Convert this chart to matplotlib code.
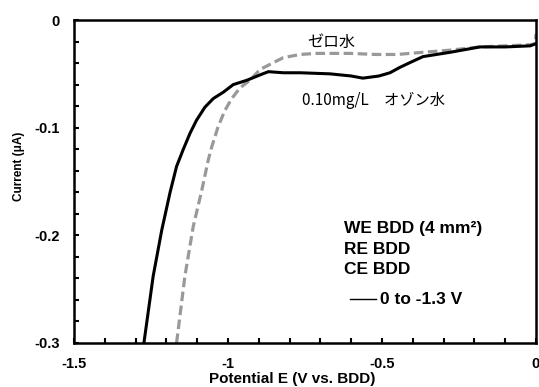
import numpy as np
import matplotlib.pyplot as plt
from matplotlib.ticker import MultipleLocator

plt.rcParams['font.family'] = ['Liberation Sans', 'DejaVu Sans']
plt.rcParams['axes.unicode_minus'] = False

# ---------- data ----------
# 0.10 mg/L ozone water (black solid)
ozone_E = [-1.273, -1.243, -1.215, -1.188, -1.167, -1.145, -1.123, -1.102,
           -1.075, -1.048, -1.015, -0.983, -0.939, -0.896, -0.869, -0.820, -0.766,
           -0.669, -0.600, -0.562, -0.510, -0.474, -0.442, -0.405, -0.367, -0.279,
           -0.182, -0.100, -0.019, 0.0]
ozone_I = [-0.300, -0.238, -0.195, -0.160, -0.136, -0.120, -0.105, -0.093,
           -0.081, -0.073, -0.067, -0.060, -0.056, -0.051, -0.048, -0.049, -0.049,
           -0.050, -0.052, -0.054, -0.052, -0.049, -0.044, -0.039, -0.034, -0.030,
           -0.025, -0.025, -0.024, -0.022]

# zero water (gray dashed)
zero_E = [-1.167, -1.140, -1.113, -1.085, -1.064, -1.053, -1.032, -1.010, -0.988,
          -0.961, -0.929, -0.896, -0.869, -0.821, -0.766, -0.711, -0.604, -0.520,
          -0.451, -0.367, -0.279, -0.182, -0.100, -0.019, -0.002, 0.0]
zero_I = [-0.300, -0.238, -0.192, -0.158, -0.130, -0.118, -0.099, -0.084, -0.073,
          -0.063, -0.056, -0.046, -0.042, -0.035, -0.032, -0.031, -0.031, -0.032,
          -0.032, -0.030, -0.028, -0.025, -0.024, -0.023, -0.022, -0.013]

x_ticks = [-1.5, -1.0, -0.5, 0.0]
x_labels = ['-1.5', '-1', '-0.5', '0']
y_ticks = [0.0, -0.1, -0.2, -0.3]
y_labels = ['0', '-0.1', '-0.2', '-0.3']

# ---------- figure ----------
fig = plt.figure(figsize=(5.39, 3.87), dpi=100)
ax = fig.add_axes([0.1373, 0.1137, 0.8571, 0.8346])

ax.plot(zero_E, zero_I, color='#999999', lw=2.3, dashes=(3, 1.4), zorder=2)
ax.plot(ozone_E, ozone_I, color='black', lw=2.2, zorder=3)

ax.set_xlim(-1.5, 0)
ax.set_ylim(-0.3, 0)
ax.set_xticks(x_ticks)
ax.set_xticklabels(x_labels)
ax.set_yticks(y_ticks)
ax.set_yticklabels(y_labels)
ax.xaxis.set_minor_locator(MultipleLocator(0.1))
ax.yaxis.set_minor_locator(MultipleLocator(0.02))
ax.tick_params(which='both', direction='in', top=False, right=False, width=1.5,
               length=3.5, color='black')
ax.tick_params(axis='y', pad=10)
ax.tick_params(axis='x', pad=10)
for lab in ax.get_xticklabels() + ax.get_yticklabels():
    lab.set_fontsize(10.5)
    lab.set_fontweight('bold')
for sp in ax.spines.values():
    sp.set_linewidth(1.8)
    sp.set_color('black')

ax.set_xlabel('Potential E (V vs. BDD)', fontsize=11, fontweight='bold')
ax.xaxis.set_label_coords(0.473, -0.111, transform=ax.transAxes)
ax.xaxis.label.set_va('center')
ax.set_ylabel('Current (\u03bcA)', fontsize=8.5, fontweight='bold')
ax.yaxis.set_label_coords(-0.119, 0.548, transform=ax.transAxes)
ax.yaxis.label.set_va('center')

jp = ['Noto Sans CJK JP', 'DejaVu Sans']
ax.text(-0.664, -0.0209, 'ゼロ水', family=jp, fontsize=11.5, ha='center', va='center')
ax.text(-0.760, -0.0743, '0.10mg/L\u3000オゾン水', family=jp, fontsize=11,
        ha='left', va='center')

for yy, s in [(0.353, 'WE BDD (4 mm\u00b2)'), (0.291, 'RE BDD'), (0.229, 'CE BDD')]:
    ax.text(0.584, yy, s, transform=ax.transAxes, fontsize=12.5, fontweight='bold',
            ha='left', va='center')
ax.plot([0.597, 0.654], [0.136, 0.136], transform=ax.transAxes, color='black', lw=1.0)
ax.text(0.662, 0.136, '0 to -1.3 V', transform=ax.transAxes, fontsize=12.5,
        fontweight='bold', ha='left', va='center')

fig.savefig('out.png', dpi=100, facecolor='white')
